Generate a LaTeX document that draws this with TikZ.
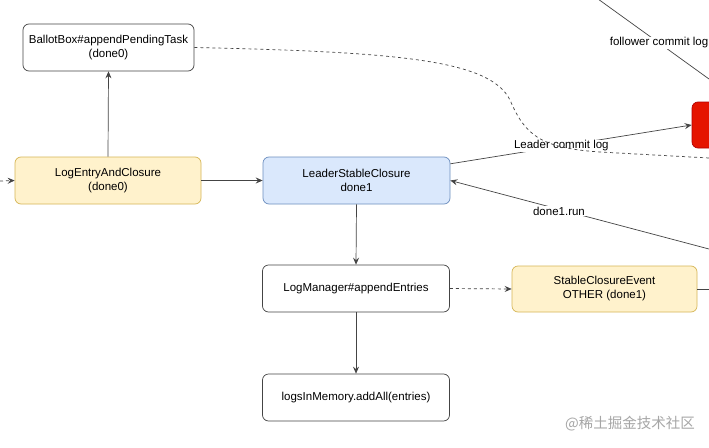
\documentclass[tikz,border=0pt]{standalone}
\usepackage{fontspec}
\setmainfont{Liberation Sans}
\newfontfamily\cjkfont{Noto Sans CJK SC}
\usetikzlibrary{arrows.meta,calc}
\definecolor{yfill}{HTML}{FFF2CC}
\definecolor{ydraw}{HTML}{D6B656}
\definecolor{bfill}{HTML}{DAE8FC}
\definecolor{bdraw}{HTML}{6C8EBF}
\definecolor{rfill}{HTML}{E51400}
\definecolor{rdraw}{HTML}{B20000}
\definecolor{linec}{HTML}{444444}
\tikzset{
  box/.style={draw=linec, line width=0.7pt, rounded corners=6pt, inner sep=0pt, align=center, minimum height=47pt, fill=white},
  ybox/.style={box, draw=ydraw, fill=yfill},
  bbox/.style={box, draw=bdraw, fill=bfill},
  conn/.style={draw=linec, line width=0.7pt},
  arr/.style={conn, -{Stealth[length=7pt,width=6pt,inset=2.5pt]}},
  darr/.style={arr, dash pattern=on 3pt off 3pt},
  lbl/.style={fill=white, inner sep=1pt, font=\fontsize{11.5}{14}\selectfont}
}
\begin{document}
\begin{tikzpicture}[x=1pt,y=-1pt,font=\fontsize{11.5}{14}\selectfont]
\useasboundingbox (0,0) rectangle (709,447);
\clip (0,0) rectangle (709,447);
\fill[white] (0,0) rectangle (709,447);

% nodes
\node[box, minimum width=171pt] (ballot) at (108.5,47.5) {BallotBox\#appendPendingTask\\(done0)};
\node[ybox, minimum width=186pt] (logentry) at (108,180.5) {LogEntryAndClosure\\(done0)};
\node[bbox, minimum width=187pt] (leader) at (356.5,180.5) {LeaderStableClosure\\done1};
\node[box, minimum width=187pt] (logmgr) at (356,288.5) {LogManager\#appendEntries};
\node[box, minimum width=187pt] (inmem) at (356,397.5) {logsInMemory.addAll(entries)};
\node[ybox, minimum width=185pt, minimum height=46pt] (event) at (604.5,289) {StableClosureEvent\\OTHER (done1)};
\node[draw=rdraw, fill=rfill, line width=0.7pt, rounded corners=6pt, minimum width=90pt, minimum height=46pt, inner sep=0pt] (red) at (737,125) {};

% coordinates for free ends
\coordinate (leftin) at (0,181);
\coordinate (eventout) at (709,289);
\coordinate (donein) at (709,249);
\coordinate (follA) at (598,-1);
\coordinate (follB) at (709,79);
\coordinate (curveend) at (709,158);

% connectors
\draw[arr] (logentry.north) -- (ballot.south);
\draw[darr] (leftin) -- (logentry.west);
\draw[arr] (logentry.east) -- (leader.west);
\draw[arr] (leader.south) -- (logmgr.north);
\draw[arr] (logmgr.south) -- (inmem.north);
\draw[darr] (logmgr.east) -- (event.west);
\draw[conn] (event.east) -- (eventout);

\draw[arr] ($(leader.north east)!0.15!(leader.south east)$) -- node[lbl, pos=0.46] {Leader commit log} (red.west);
\draw[arr] (donein) -- node[lbl, pos=0.58, yshift=-2pt] {done1.run} (leader.east);
\draw[conn] (follA) -- node[lbl, pos=0.55] {follower commit log} (follB);

% dashed curve from BallotBox
\draw[conn, dash pattern=on 3pt off 3pt] (ballot.east) .. controls (400,52) and (490,60) .. (510,100)
  .. controls (525,135) and (540,148) .. (600,152) -- (curveend);

% watermark
\node[text=black!35, font=\cjkfont\fontsize{14.5}{16}\selectfont, anchor=east, inner sep=0pt] (wm) at (695,424) {@稀土掘金技术社区};
\end{tikzpicture}
\end{document}
